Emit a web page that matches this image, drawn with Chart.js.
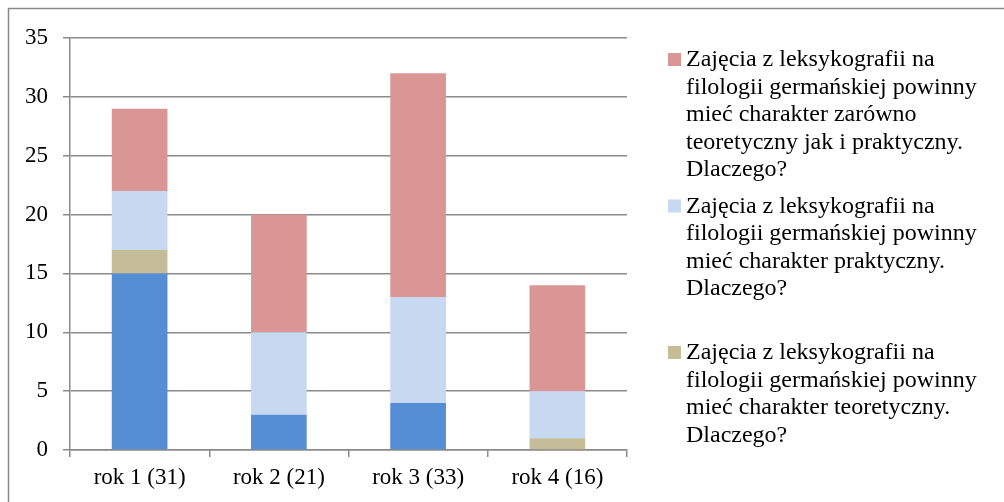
<!DOCTYPE html>
<html>
<head>
<meta charset="utf-8">
<script src="https://cdn.jsdelivr.net/npm/chart.js@4"></script>
<style>
html,body{margin:0;padding:0;background:#fff;}
#wrap{width:1004px;height:502px;position:relative;}
</style>
</head>
<body>
<div id="wrap"><canvas id="c" width="1004" height="502"></canvas></div>
<script>
const categories = ['rok 1 (31)', 'rok 2 (21)', 'rok 3 (33)', 'rok 4 (16)'];
const seriesNames = [
  'Zajęcia z leksykografii na filologii germańskiej powinny mieć charakter zarówno teoretyczny jak i praktyczny. Dlaczego?',
  'Zajęcia z leksykografii na filologii germańskiej powinny mieć charakter praktyczny. Dlaczego?',
  'Zajęcia z leksykografii na filologii germańskiej powinny mieć charakter teoretyczny. Dlaczego?'
];
// stacking order: bottom -> top
const blueValues = [15, 3, 4, 0];
const tanValues = [2, 0, 0, 1];
const lightBlueValues = [5, 7, 9, 4];
const pinkValues = [7, 10, 19, 9];
const yTicks = [0, 5, 10, 15, 20, 25, 30, 35];

const COLORS = { blue: '#558ED5', tan: '#C4BD97', light: '#C6D9F1', pink: '#D99694' };
const GRID = '#8a8a8a';
const FONT = "'Liberation Serif', 'Times New Roman', serif";

const frame = {
  id: 'frame',
  beforeDraw(chart) {
    const ctx = chart.ctx;
    ctx.save();
    ctx.strokeStyle = GRID;
    ctx.lineWidth = 1.5;
    ctx.beginPath();
    ctx.moveTo(8.5, 502);
    ctx.lineTo(8.5, 8.5);
    ctx.lineTo(1004, 8.5);
    ctx.stroke();
    ctx.restore();
  }
};

const legendPlugin = {
  id: 'customLegend',
  afterDraw(chart) {
    const ctx = chart.ctx;
    ctx.save();
    ctx.font = '24px ' + FONT;
    ctx.textBaseline = 'middle';
    const order = [3, 2, 1]; // pink, light blue, tan (visible legend entries)
    const textX = 686, boxX = 668, boxSize = 13;
    const lineH = 27.5, slot = 146.5, firstY = 60;
    const maxW = 310;
    order.forEach((dsIndex, i) => {
      const ds = chart.data.datasets[dsIndex];
      const words = ds.label.split(' ');
      const lines = [];
      let cur = '';
      words.forEach(w => {
        const test = cur ? cur + ' ' + w : w;
        if (ctx.measureText(test).width > maxW && cur) { lines.push(cur); cur = w; }
        else cur = test;
      });
      if (cur) lines.push(cur);
      const y0 = firstY + i * slot;
      ctx.fillStyle = ds.backgroundColor;
      ctx.fillRect(boxX, y0 - 7, boxSize, boxSize);
      ctx.fillStyle = '#000';
      lines.forEach((ln, k) => ctx.fillText(ln, textX, y0 + k * lineH));
    });
    ctx.restore();
  }
};

new Chart(document.getElementById('c'), {
  type: 'bar',
  data: {
    labels: categories,
    datasets: [
      { label: '', data: blueValues, backgroundColor: COLORS.blue },
      { label: seriesNames[2], data: tanValues, backgroundColor: COLORS.tan },
      { label: seriesNames[1], data: lightBlueValues, backgroundColor: COLORS.light },
      { label: seriesNames[0], data: pinkValues, backgroundColor: COLORS.pink }
    ]
  },
  options: {
    responsive: false,
    animation: false,
    devicePixelRatio: 1,
    layout: { padding: { left: 0, right: 377, top: 38, bottom: 0 } },
    datasets: { bar: { barPercentage: 0.4, categoryPercentage: 1.0, borderWidth: 0 } },
    plugins: { legend: { display: false }, tooltip: { enabled: false } },
    scales: {
      x: {
        stacked: true,
        grid: { display: true, drawOnChartArea: false, drawTicks: true, tickLength: 7, color: GRID, lineWidth: 1.5, offset: true },
        border: { display: true, color: GRID, width: 1.5 },
        ticks: { color: '#000', font: { family: FONT, size: 23 }, padding: 7, maxRotation: 0 },
        afterFit(s) { s.height = 52; }
      },
      y: {
        stacked: true,
        min: 0, max: 35,
        afterBuildTicks(s) { s.ticks = yTicks.map(v => ({ value: v })); },
        grid: { color: GRID, lineWidth: 1.5, drawTicks: true, tickLength: 7 },
        border: { display: true, color: GRID, width: 1.5 },
        ticks: { color: '#000', font: { family: FONT, size: 23 }, padding: 15 },
        afterFit(s) { s.width = 70; }
      }
    }
  },
  plugins: [frame, legendPlugin]
});
</script>
</body>
</html>
